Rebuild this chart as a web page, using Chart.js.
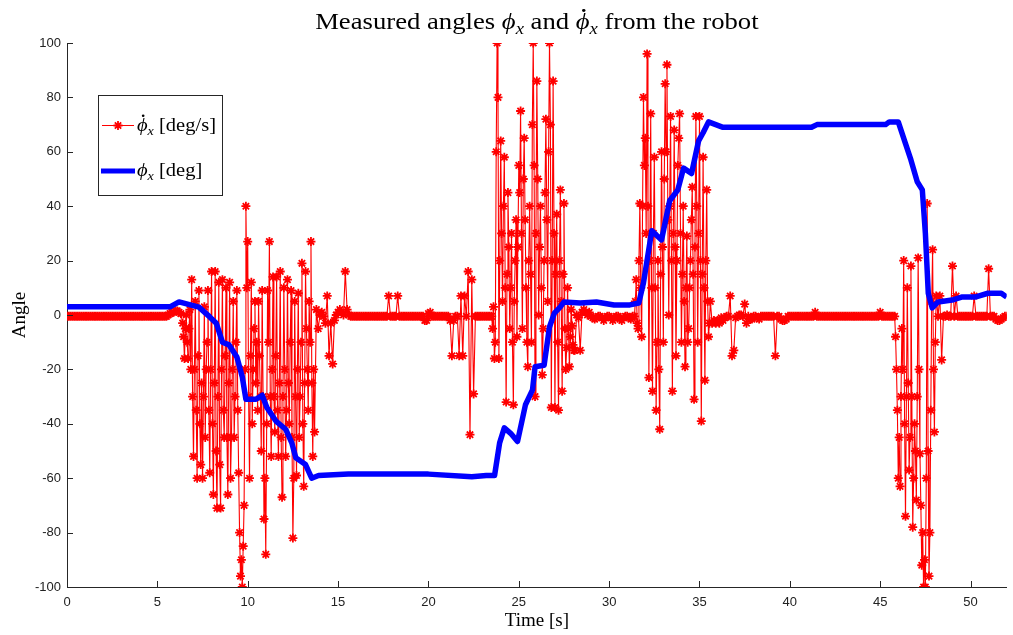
<!DOCTYPE html>
<html>
<head>
<meta charset="utf-8">
<title>Measured angles</title>
<script src="https://cdn.jsdelivr.net/npm/chart.js@4.4.1/dist/chart.umd.min.js"></script>
<style>
  html, body { margin: 0; padding: 0; background: #fff; }
  #wrap { width: 1013px; height: 635px; }
</style>
</head>
<body>
<div id="wrap"><canvas id="angleChart" width="1013" height="635"></canvas></div>
<script>
// sampled rate signal, one row per second (0.1 s step)
const sampleStep = 0.1;
const rateValues = [
  -0.5,-0.5,-0.5,-0.5,-0.5,-0.5,-0.5,-0.5,-0.5,-0.5,   // 0 s
  -0.5,-0.5,-0.5,-0.5,-0.5,-0.5,-0.5,-0.5,-0.5,-0.5,   // 1
  -0.5,-0.5,-0.5,-0.5,-0.5,-0.5,-0.5,-0.5,-0.5,-0.5,   // 2
  -0.5,-0.5,-0.5,-0.5,-0.5,-0.5,-0.5,-0.5,-0.5,-0.5,   // 3
  -0.5,-0.5,-0.5,-0.5,-0.5,-0.5,-0.5,-0.5,-0.5,-0.5,   // 4
  -0.5,-0.5,-0.5,-0.5,-0.5,-0.5,0,0.5,1,1,             // 5
  1.5,1.5,1,0.5,-3,-16,0,-16,2,13,                     // 6
  -52,5,-60,9,-55,-60,3,-20,9,-58,                     // 7
  16,-66,16,-71,12,-71,13,-45,10,-66,                  // 8
  12,-45,5,-30,9,-58,-96,-100,-70,40,                  // 9
  27,-60,12,-20,5,-10,5,-30,9,-75,                     // 10
  -88,9,27,-52,14,-43,14,-52,16,-67,                   // 11
  10,-52,13,-40,9,-82,5,-59,8,-30,                     // 12
  19,-63,16,-20,5,27,-52,-43,2,-5,                     // 13
  0,1,-0.5,-3,7,-15,-3,-18,-2,0,                       // 14
  1,2,1,0,16,2,0,-0.5,-0.5,-0.5,                       // 15
  -0.5,-0.5,-0.5,-0.5,-0.5,-0.5,-0.5,-0.5,-0.5,-0.5,   // 16
  -0.5,-0.5,-0.5,-0.5,-0.5,-0.5,-0.5,-0.5,7,-0.5,      // 17
  -0.5,-0.5,-0.5,7,-0.5,-0.5,-0.5,-0.5,-0.5,-0.5,      // 18
  -0.5,-0.5,-0.5,-0.5,-0.5,-0.5,-0.5,-0.5,-2,-2,       // 19
  0.5,1,-0.5,-0.5,-0.5,-0.5,-0.5,-0.5,-0.5,-0.5,       // 20
  -0.5,-0.5,-2,-15,-2,-0.5,-0.5,-15,7,-15,             // 21
  7,-0.5,16,-44,13,-29,-0.5,-0.5,-0.5,-0.5,            // 22
  -0.5,-0.5,-0.5,-0.5,-0.5,-0.5,3,-10,100,-16,         // 23
  64,5,58,-32,45,-5,30,-33,20,-8,                      // 24
  55,75,-5,65,10,-19,40,-10,100,-30,                   // 25
  86,0,40,-22,20,72,5,100,-34,86,                      // 26
  -34,37,-35,46,-28,41,-20,10,-19,2,                   // 27
  -11,-13,0,-1,-13,1,2,1,0,1,                          // 28
  -0.5,-1,-1.5,-1,-0.5,-0.5,-1,-2,-1,-0.5,             // 29
  -0.5,-1,-2,-1,-0.5,-0.5,-1.5,-2,-1,-0.5,             // 30
  -0.5,-1,-1.5,-0.5,-0.5,13,-5,41,-8,80,               // 31
  65,96,-23,74,-28,58,-35,20,-42,60,                   // 32
  -10,85,92,0,73,-28,68,-15,55,74,                     // 33
  -10,40,-19,29,-5,20,47,-31,73,-10,                   // 34
  73,-39,58,-24,46,-8,5,-3,-2,-3,                      // 35
  -2,-3,-1,-2,-1,-0.5,-0.5,7,-15,-13,                  // 36
  -1,-0.5,0,0,-0.5,4,-3,-0.5,-1.5,-1.5,                // 37
  -0.5,-0.5,-1,-1.5,-0.5,-0.5,-0.5,-0.5,-0.5,-0.5,     // 38
  -0.5,-0.5,-15,-0.5,-0.5,-1.5,-2,-2,-1.5,-0.5,        // 39
  -0.5,-0.5,-0.5,-0.5,-0.5,-0.5,-0.5,-0.5,-0.5,-0.5,   // 40
  -0.5,-0.5,-0.5,-0.5,1,-0.5,-0.5,-0.5,-0.5,-0.5,      // 41
  -0.5,-0.5,-0.5,-0.5,-0.5,-0.5,-0.5,-0.5,-0.5,-0.5,   // 42
  -0.5,-0.5,-0.5,-0.5,-0.5,-0.5,-0.5,-0.5,-0.5,-0.5,   // 43
  -0.5,-0.5,-0.5,-0.5,-0.5,-0.5,-0.5,-0.5,-0.5,-0.5,   // 44
  1,-0.5,-0.5,-0.5,-0.5,-0.5,-0.5,-0.5,-0.5,-20,       // 45
  -60,-63,-5,20,-74,10,-57,18,-78,-40,                 // 46
  -68,21,-51,-92,-100,-100,41,-96,-35,24,              // 47
  -43,7,-0.5,7,-16.5,-0.5,-0.5,0,-0.5,-0.5,            // 48
  18,-0.5,7,-0.5,-0.5,-0.5,-0.5,-0.5,-0.5,-0.5,        // 49
  -0.5,-0.5,7,-0.5,-0.5,-0.5,-0.5,-0.5,-0.5,-0.5,      // 50
  17,-0.5,-0.5,-0.5,-1.5,-2,-2,-1.5,-1,-0.5,           // 51
  -0.5                                                 // 52
];

// extra in-between samples inside the busy bursts (at +0.05 s offsets)
const burstStart = [6.45, 23.55, 31.45, 45.85];
const burstValues = [
  [-8,-5,-10,-5,-20,-30,
   -20,-35,-15,-40,-25,-30,-45,-10,-35,-20,
   -40,-25,-50,-30,-55,-20,-35,-15,-45,-25,
   -60,-20,-45,-10,-35,-80,-90,-85,-20,10,
   -30,-15,-40,-5,-25,-35,-15,-50,-30,-60,
   -40,-10,-30,-20,-30,-15,-35,-25,-45,-30,
   -20,-35,-25,-10,-45,-60,-30,-20,-45,-10,
   -40,-25,-5,-35,-10,-25,-20],
  [-5,-16,60,80,20,
   30,40,10,15,25,10,-10,5,35,25,
   45,30,50,35,-10,20,15,70,55,30,
   50,25,10,-5,45,35,60,70,20,30,
   15,-10,20,5,15,-5,-12,-5,-8,-4,
   -13],
  [5,-3,20,10,40,55,
   30,40,20,10,30,10,-10,-20,15,25,
   50,60,35,40,20,30,25,20,65,30,
   15,5,10,-10,10,35,15,25,40,30,
   20,15,10,20,5,-3],
  [-8,-35,
   -45,-30,-20,-40,-30,-25,-45,-30,-60,-50,
   -30,-20,-70,-80,-90,-60,-50,-80,5,-20,
   -10]
];

// angle trace (breakpoints)
const angleTime = [0, 5.7, 6.2, 7.3, 7.9, 8.26, 8.6, 8.97, 9.4, 9.7, 9.9, 10.46, 10.8, 11.06, 11.56, 12.1,
  12.44, 12.66, 13.2, 13.54, 13.92, 15.57, 20, 22.4, 23.2, 23.66, 23.94, 24.2, 24.55, 24.93, 25.37, 25.76,
  25.9, 26.4, 26.7, 26.97, 27.3, 27.5, 28.4, 29.3, 30.27, 31.15, 31.64, 31.9, 32.36, 32.9, 33.35, 33.8,
  34.12, 34.56, 34.95, 35.2, 35.5, 36.3, 37.6, 41.2, 41.5, 45.3, 45.5, 46.0, 46.4, 46.7, 47.05, 47.33,
  47.5, 47.66, 47.88, 48.2, 48.98, 49.5, 50.25, 50.96, 51.7, 52];
const angleValues = [3, 3, 4.8, 2.9, -0.7, -3, -10, -11, -15.4, -22.8, -31, -31, -29.5, -34, -39, -42,
  -47, -52.5, -55, -60, -59, -58.5, -58.5, -59.5, -59, -59, -47, -41.5, -43.5, -46.5, -33, -27.5,
  -19, -18.5, -4.4, 0.7, 3, 4.8, 4.4, 4.8, 3.7, 3.7, 4.4, 11.8, 31, 27.6, 42, 46,
  54, 52, 64, 67, 71, 69, 69, 69, 70, 70, 71, 71, 63, 57, 49, 46,
  30, 8, 2.6, 4.8, 5.5, 6.6, 6.6, 8, 8, 6.6];

const xTicks = [0, 5, 10, 15, 20, 25, 30, 35, 40, 45, 50];
const yTicks = [-100, -80, -60, -40, -20, 0, 20, 40, 60, 80, 100];

const serif = '"Liberation Serif", "DejaVu Serif", serif';
const sans = '"Liberation Sans", Arial, sans-serif';
const axisColor = '#262626';

const redPoints = rateValues.map((v, i) => ({ x: +(i * sampleStep).toFixed(2), y: v }));
burstValues.forEach((vals, b) => {
  vals.forEach((v, i) => redPoints.push({ x: +(burstStart[b] + i * sampleStep).toFixed(2), y: v }));
});
redPoints.sort((a, b) => a.x - b.x);
const bluePoints = angleTime.map((t, i) => ({ x: t, y: angleValues[i] }));

// draws a run of text pieces: plain, italic, subscript, dotted (phi-dot)
function drawMath(ctx, parts, x, y, size, stretch, centered) {
  const fontFor = p => (p.it ? 'italic ' : '') + (p.sub ? Math.round(size * 0.7) : size) + 'px ' + serif;
  let total = 0;
  parts.forEach(p => { ctx.font = fontFor(p); p.w = ctx.measureText(p.t).width; total += p.w; });
  ctx.save();
  ctx.translate(centered ? x - total * stretch / 2 : x, y);
  ctx.scale(stretch, 1);
  ctx.textAlign = 'left';
  ctx.textBaseline = 'alphabetic';
  let cx = 0;
  parts.forEach(p => {
    ctx.font = fontFor(p);
    ctx.fillText(p.t, cx, p.sub ? size * 0.2 : 0);
    if (p.dot) {
      ctx.beginPath();
      ctx.arc(cx + p.w * 0.58, -size * 0.8, size * 0.065, 0, Math.PI * 2);
      ctx.fill();
    }
    cx += p.w;
  });
  ctx.restore();
}

const decorPlugin = {
  id: 'decor',
  afterDraw(chart) {
    const ctx = chart.ctx;
    const area = chart.chartArea;
    const xs = chart.scales.x, ys = chart.scales.y;
    ctx.save();

    // inward tick marks
    ctx.strokeStyle = axisColor;
    ctx.lineWidth = 1;
    ctx.beginPath();
    xTicks.forEach(v => {
      const px = Math.round(xs.getPixelForValue(v)) + 0.5;
      ctx.moveTo(px, area.bottom);
      ctx.lineTo(px, area.bottom - 6);
    });
    yTicks.forEach(v => {
      const py = Math.round(ys.getPixelForValue(v)) + 0.5;
      ctx.moveTo(area.left, py);
      ctx.lineTo(area.left + 6, py);
    });
    ctx.stroke();

    // title
    ctx.fillStyle = '#000';
    drawMath(ctx, [
      { t: 'Measured angles ' },
      { t: 'ϕ', it: true }, { t: 'x', it: true, sub: true },
      { t: ' and ' },
      { t: 'ϕ', it: true, dot: true }, { t: 'x', it: true, sub: true },
      { t: ' from the robot' }
    ], (area.left + area.right) / 2, 29, 23, 1.16, true);

    // legend box
    const bx = 98, by = 95, bw = 124, bh = 100;
    ctx.fillStyle = '#fff';
    ctx.fillRect(bx, by, bw, bh);
    ctx.strokeStyle = axisColor;
    ctx.lineWidth = 1;
    ctx.strokeRect(bx + 0.5, by + 0.5, bw, bh);

    // red sample
    ctx.strokeStyle = '#ff0000';
    ctx.beginPath();
    ctx.moveTo(102, 125.5); ctx.lineTo(134, 125.5);
    ctx.stroke();
    ctx.lineWidth = 1.8;
    const r = 4.5, cx = 118, cy = 125.5;
    ctx.beginPath();
    for (let k = 0; k < 4; k++) {
      const a = k * Math.PI / 4;
      ctx.moveTo(cx - r * Math.cos(a), cy - r * Math.sin(a));
      ctx.lineTo(cx + r * Math.cos(a), cy + r * Math.sin(a));
    }
    ctx.stroke();

    // blue sample
    ctx.strokeStyle = '#0000ff';
    ctx.lineWidth = 5;
    ctx.beginPath();
    ctx.moveTo(101, 171); ctx.lineTo(135, 171);
    ctx.stroke();

    ctx.fillStyle = '#000';
    drawMath(ctx, [
      { t: 'ϕ', it: true, dot: true }, { t: 'x', it: true, sub: true }, { t: ' [deg/s]' }
    ], 137, 131, 19, 1.08, false);
    drawMath(ctx, [
      { t: 'ϕ', it: true }, { t: 'x', it: true, sub: true }, { t: ' [deg]' }
    ], 137, 176, 19, 1.08, false);

    ctx.restore();
  }
};

new Chart(document.getElementById('angleChart'), {
  type: 'line',
  data: {
    datasets: [
      {
        label: 'ϕx [deg]',
        data: bluePoints,
        borderColor: '#0000ff',
        borderWidth: 5.5,
        pointRadius: 0,
        tension: 0,
        borderJoinStyle: 'round',
        order: 0
      },
      {
        label: 'ϕ̇x [deg/s]',
        data: redPoints,
        borderColor: '#ff0000',
        borderWidth: 1.1,
        pointStyle: 'star',
        pointRadius: 4.5,
        pointBorderWidth: 1.8,
        pointBorderColor: '#ff0000',
        pointBackgroundColor: '#ff0000',
        tension: 0,
        order: 1
      }
    ]
  },
  options: {
    responsive: false,
    animation: false,
    events: [],
    layout: { padding: { top: 43, right: 1, left: 0, bottom: 0 } },
    plugins: {
      legend: { display: false },
      tooltip: { enabled: false },
      title: { display: false }
    },
    scales: {
      x: {
        type: 'linear',
        min: 0,
        max: 52,
        grid: { display: false, drawTicks: false },
        border: { display: true, color: axisColor, width: 1 },
        ticks: {
          stepSize: 5,
          includeBounds: false,
          maxRotation: 0,
          padding: 8,
          color: '#222',
          font: { family: sans, size: 13 }
        },
        title: {
          display: true,
          text: 'Time [s]',
          color: '#000',
          font: { family: serif, size: 19 },
          padding: { top: 0, bottom: 3 }
        },
        afterFit: s => { s.height = 48; }
      },
      y: {
        min: -100,
        max: 100,
        grid: { display: false, drawTicks: false },
        border: { display: true, color: axisColor, width: 1 },
        ticks: {
          stepSize: 20,
          padding: 6,
          color: '#222',
          font: { family: sans, size: 13 }
        },
        title: {
          display: true,
          text: 'Angle',
          color: '#000',
          font: { family: serif, size: 19 },
          padding: { top: 9, bottom: 0 }
        },
        afterFit: s => { s.width = 67; }
      }
    }
  },
  plugins: [decorPlugin]
});
</script>
</body>
</html>
